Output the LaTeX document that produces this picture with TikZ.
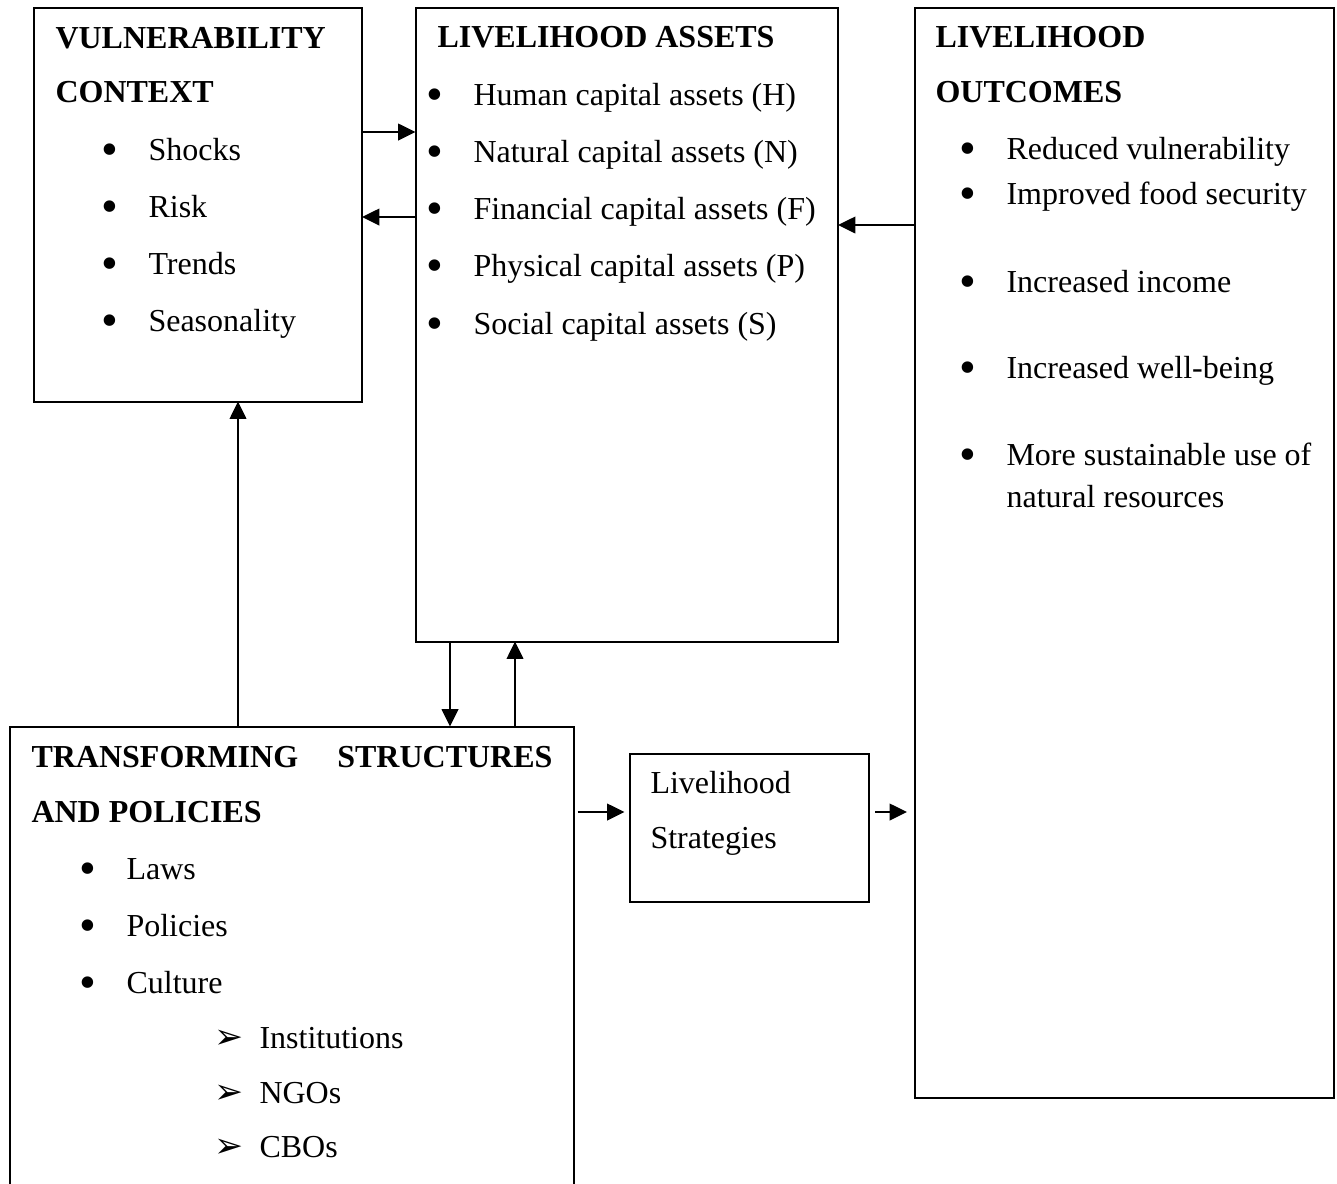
\documentclass[tikz,border=0pt,12pt]{standalone}
\usepackage{fontspec}
\setmainfont{Liberation Serif}
\newfontfamily\dingfont{DejaVu Sans}
\usetikzlibrary{arrows.meta}

\newlength\px
\setlength\px{0.375pt}
\newcommand\blt{\makebox[47\px][l]{\raisebox{-0.17em}{\scalebox{1.5}{\textbullet}}}}
\newcommand\arr{\makebox[45\px][l]{{\dingfont\fontsize{13}{14}\selectfont ➢}}}

\begin{document}
\begin{tikzpicture}
[
    x=0.375pt, y=-0.375pt,
    box/.style={draw, line width=0.75pt, inner sep=0pt, outer sep=0pt, anchor=north west},
    head/.style={anchor=base west, inner sep=0pt, font=\fontsize{12}{14}\selectfont\bfseries},
    item/.style={anchor=base west, inner sep=0pt, font=\fontsize{12}{14}\selectfont},
    link/.style={-{Triangle[length=6.5pt, width=6.2pt]}, line width=0.75pt},
]
\useasboundingbox (0,0) rectangle (1337,1183);

% boxes
\node [box, minimum width=328.5\px, minimum height=394\px] (vc) at (33.5,7.5) {};
\node [box, minimum width=422.5\px, minimum height=634\px] (la) at (415.5,7.5) {};
\node [box, minimum width=419\px, minimum height=1090.5\px] (lo) at (915,7.5) {};
\node [box, minimum width=564\px, minimum height=560\px] (ts) at (9.5,726.5) {};
\node [box, minimum width=239\px, minimum height=148\px] (ls) at (629.5,753.5) {};

% vulnerability context
\node [head] (vch1) at (55,48) {VULNERABILITY};
\node [head] (vch2) at (55,102) {CONTEXT};
\node [item] (vc1) at (101,160) {\blt Shocks};
\node [item] (vc2) at (101,217) {\blt Risk};
\node [item] (vc3) at (101,274) {\blt Trends};
\node [item] (vc4) at (101,331) {\blt Seasonality};

% livelihood assets
\node [head] (lah) at (437,47) {LIVELIHOOD ASSETS};
\node [item] (la1) at (426,105) {\blt Human capital assets (H)};
\node [item] (la2) at (426,162) {\blt Natural capital assets (N)};
\node [item] (la3) at (426,219) {\blt Financial capital assets (F)};
\node [item] (la4) at (426,276) {\blt Physical capital assets (P)};
\node [item] (la5) at (426,334) {\blt Social capital assets (S)};

% livelihood outcomes
\node [head] (loh1) at (935,47) {LIVELIHOOD};
\node [head] (loh2) at (935,102) {OUTCOMES};
\node [item] (lo1) at (959,159) {\blt Reduced vulnerability};
\node [item] (lo2) at (959,204) {\blt Improved food security};
\node [item] (lo3) at (959,292) {\blt Increased income};
\node [item] (lo4) at (959,378) {\blt Increased well-being};
\node [item] (lo5) at (959,465) {\blt More sustainable use of};
\node [item] (lo6) at (1006,507) {natural resources};

% transforming structures and policies
\node [head, text width=521\px] (tsh1) at (31,767) {TRANSFORMING\hfill STRUCTURES};
\node [head] (tsh2) at (31,822) {AND POLICIES};
\node [item] (ts1) at (79,879) {\blt Laws};
\node [item] (ts2) at (79,936) {\blt Policies};
\node [item] (ts3) at (79,993) {\blt Culture};
\node [item] (ts4) at (214,1048) {\arr Institutions};
\node [item] (ts5) at (214,1103) {\arr NGOs};
\node [item] (ts6) at (214,1157) {\arr CBOs};

% livelihood strategies
\node [item] (ls1) at (650,793) {Livelihood};
\node [item] (ls2) at (650,848) {Strategies};

% arrows
\draw [link] (vc.east |- 0,132) -- (la.west |- 0,132);
\draw [link] (la.west |- 0,217) -- (vc.east |- 0,217);
\draw [link] (lo.west |- 0,225) -- (la.east |- 0,225);
\draw [link] (ts.north -| 238,0) -- (vc.south -| 238,0);
\draw [link] (la.south -| 450,0) -- (ts.north -| 450,0);
\draw [link] (ts.north -| 515,0) -- (la.south -| 515,0);
\draw [link, shorten <=4\px, shorten >=5\px] (ts.east |- 0,812) -- (ls.west |- 0,812);
\draw [link, shorten <=6.5\px, shorten >=8\px] (ls.east |- 0,812) -- (lo.west |- 0,812);
\end{tikzpicture}
\end{document}
